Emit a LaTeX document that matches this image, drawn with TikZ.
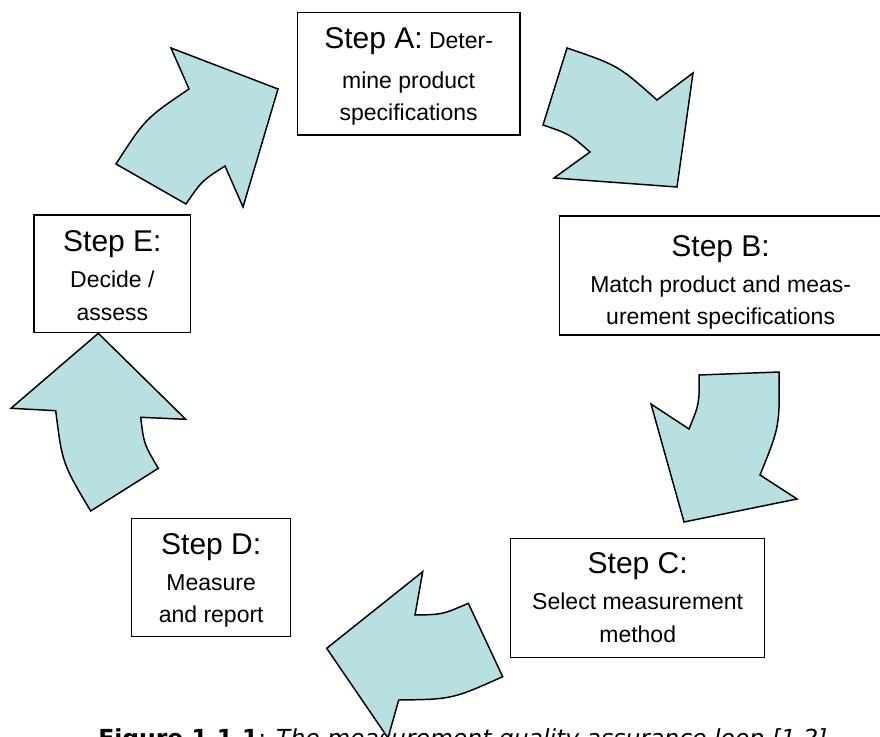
\documentclass[tikz,border=0pt]{standalone}
\usepackage{fontspec}
\setmainfont{Liberation Sans}
\newfontfamily\capfont{DejaVu Sans}
\newcommand\steplabel[1]{{\fontsize{22.5}{27}\selectfont #1}}
\definecolor{arrowfill}{HTML}{B8DFE2}
\begin{document}
\begin{tikzpicture}[x=0.75pt,y=-0.75pt,
  stepbox/.style={draw, line width=1.1pt, fill=white, align=center, inner sep=0pt,
                  font=\fontsize{17.25}{24.4}\selectfont},
  looparrow/.style={draw, fill=arrowfill, line width=1.1pt, line join=miter}]
\useasboundingbox (0,0) rectangle (880,737);
\clip (0,0) rectangle (880,737);

% caption
\node (cap) [anchor=base west, inner sep=0pt, font=\capfont\fontsize{17.6}{20}\selectfont]
  at (98,746) {\textbf{Figure 1.1.1}: \textit{The measurement quality assurance loop [1,2]}};

% step boxes
\node (A) [stepbox, minimum width=167pt, minimum height=92pt] at (408.65,73.65)
  {\steplabel{\rule{0pt}{19.6pt}Step A:} Deter-\\[5.6pt] mine product\\ specifications};
\node (B) [stepbox, minimum width=242pt, minimum height=89.25pt] at (720.65,275.5)
  {\steplabel{\rule{0pt}{26pt}Step B:}\\[2.6pt] Match product and meas-\\ urement specifications};
\node (C) [stepbox, minimum width=190.5pt, minimum height=89.25pt] at (637.7,597.8)
  {\steplabel{Step C:}\\[2.6pt] Select measurement\\ method};
\node (D) [stepbox, minimum width=119.25pt, minimum height=88.8pt] at (211.2,577.5)
  {\steplabel{\rule{0pt}{20pt}Step D:}\\[2.8pt] Measure\\ and report};
\node (E) [stepbox, minimum width=117.5pt, minimum height=88pt] at (112.35,273.65)
  {\steplabel{\rule{0pt}{18.5pt}Step E:}\\[2.6pt] Decide /\\ assess};

% curved block arrows
% E -> A
\path[looparrow] (171,48) -- (278,89) -- (243,207) -- (225,166)
  .. controls (201.8,180.9) .. (186,204) -- (116,164)
  .. controls (145.3,118.6) .. (189,89) -- cycle;
% A -> B
\path[looparrow] (567,48) .. controls (618.1,65.4) .. (657,100) -- (693,73)
  -- (677,187) -- (554,178) -- (590,152)
  .. controls (569.6,134.1) .. (543,125) -- cycle;
% B -> C
\path[looparrow] (699,375) -- (779,372) .. controls (779.7,426.4) .. (760,475)
  -- (797,499) -- (684,522) -- (651,404) -- (689,429)
  .. controls (699.4,403.5) .. cycle;
% C -> D
\path[looparrow] (422.7,571.7) -- (415,615) .. controls (442.3,614.6) .. (468.3,603.3)
  -- (502.7,676.7) .. controls (452,699.3) .. (398.7,700)
  -- (388,738) -- (326.7,648.3) -- cycle;
% D -> E
\path[looparrow] (98.3,333.3) -- (185.7,419.3) -- (140.7,417.3)
  .. controls (143.95,444.1) .. (158.3,468.3) -- (90.7,511)
  .. controls (62.3,463.4) .. (55.7,410.7) -- (11,408.3) -- cycle;
\end{tikzpicture}
\end{document}
